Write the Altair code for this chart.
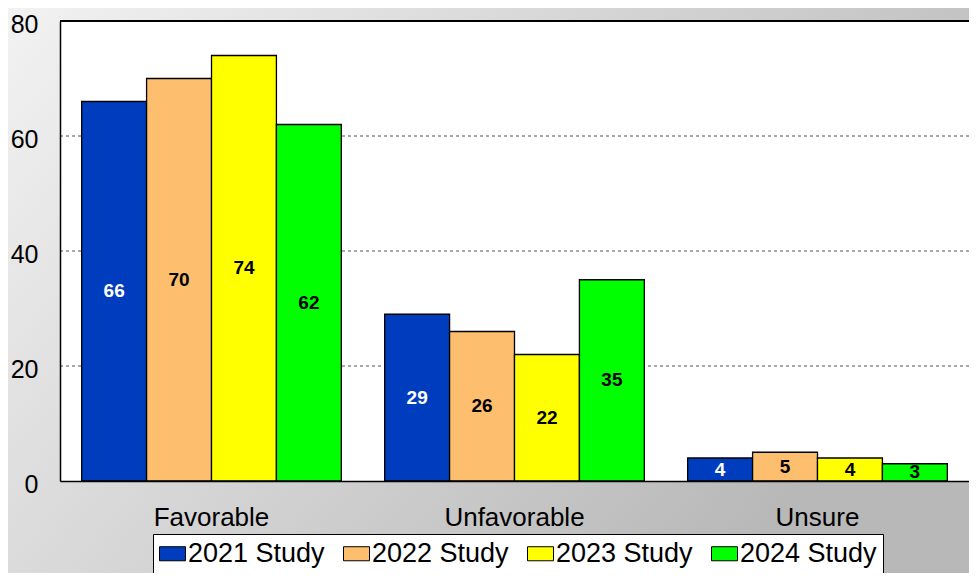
import altair as alt
import pandas as pd

categories = ["Favorable", "Unfavorable", "Unsure"]
studies = ["2021 Study", "2022 Study", "2023 Study", "2024 Study"]
values_2021 = [66, 29, 4]
values_2022 = [70, 26, 5]
values_2023 = [74, 22, 4]
values_2024 = [62, 35, 3]
study_colors = ["#003DBE", "#FDBE6E", "#FFFF00", "#00FF00"]
y_ticks = [0, 20, 40, 60, 80]
grid_values = [20, 40, 60]
top_value = [80]

rows = []
for s, vals in zip(studies, [values_2021, values_2022, values_2023, values_2024]):
    for c, v in zip(categories, vals):
        rows.append({"category": c, "study": s, "value": v})
df = pd.DataFrame(rows)

W, H = 909, 460
PAD_L, PAD_T, PAD_R, PAD_B = 52, 13, 0, 92
FONT = "Liberation Sans"

y_scale = alt.Scale(domain=[0, 80], nice=False, zero=True)
y_axis = alt.Axis(title=None, values=y_ticks, labelFontSize=25, labelColor="black",
                  labelFont=FONT, labelPadding=22, labelOffset=3, ticks=False, grid=False,
                  domain=True, domainColor="black", domainWidth=1.5, zindex=1)

x_enc = alt.X("category:N", sort=categories,
              scale=alt.Scale(paddingInner=0.143, paddingOuter=0.0715),
              axis=alt.Axis(title=None, labelAngle=0, labelFontSize=26, labelColor="black",
                            labelFont=FONT, labelPadding=23, ticks=False, grid=False,
                            domain=True, domainColor="black", domainWidth=1.5, zindex=1))
xoff_enc = alt.XOffset("study:N", sort=studies, scale=alt.Scale(paddingInner=0, paddingOuter=0))

gradient = alt.LinearGradient(
    gradient="linear",
    stops=[alt.GradientStop(color="#f2f2f2", offset=0),
           alt.GradientStop(color="#b8b8b8", offset=1)],
    x1=0, y1=0, x2=1, y2=0.5,
)

one = pd.DataFrame({"k": [0]})

bg = alt.Chart(one).mark_rect(fill=gradient).encode(
    x=alt.value(-PAD_L), x2=alt.value(W + PAD_R),
    y=alt.value(-PAD_T), y2=alt.value(H + PAD_B),
)

plot_bg = alt.Chart(one).mark_rect(fill="white").encode(
    x=alt.value(0), x2=alt.value(W), y=alt.value(0), y2=alt.value(H),
)

grid = alt.Chart(pd.DataFrame({"g": grid_values})).mark_rule(
    color="#505050", strokeDash=[3, 3], strokeWidth=1
).encode(y=alt.Y("g:Q", scale=y_scale, axis=y_axis))

bars = alt.Chart(df).mark_bar(stroke="black", strokeWidth=1.3).encode(
    x=x_enc,
    xOffset=xoff_enc,
    y=alt.Y("value:Q", scale=y_scale, axis=y_axis),
    color=alt.Color("study:N", sort=studies,
                    scale=alt.Scale(domain=studies, range=study_colors),
                    legend=alt.Legend(title=None, orient="none", direction="horizontal",
                                      legendX=93, legendY=513,
                                      labelFontSize=27, labelFont=FONT, labelColor="black",
                                      symbolType="M-1,-0.54H1V0.54H-1Z", symbolSize=676,
                                      symbolStrokeColor="black", symbolStrokeWidth=1,
                                      labelOffset=2, columnPadding=16, padding=6,
                                      fillColor="white", strokeColor="black")),
)

labels = alt.Chart(df).transform_calculate(mid="datum.value / 2").mark_text(
    fontWeight="bold", fontSize=19, font=FONT, baseline="middle", align="center"
).encode(
    x=x_enc,
    xOffset=xoff_enc,
    y=alt.Y("mid:Q", scale=y_scale, axis=y_axis),
    text=alt.Text("value:Q"),
    color=alt.condition("datum.study === '2021 Study'", alt.value("white"), alt.value("black")),
)

top_rule = alt.Chart(pd.DataFrame({"t": top_value})).mark_rule(
    color="black", strokeWidth=2
).encode(y=alt.Y("t:Q", scale=y_scale, axis=y_axis))

chart = alt.layer(bg, plot_bg, grid, bars, labels, top_rule).properties(
    width=W, height=H,
    padding={"left": PAD_L, "top": PAD_T, "right": PAD_R, "bottom": PAD_B},
    autosize=alt.AutoSizeParams(type="none"),
).configure_view(strokeWidth=0)

chart.save("out.html", embed_options={"renderer": "svg", "actions": False})
